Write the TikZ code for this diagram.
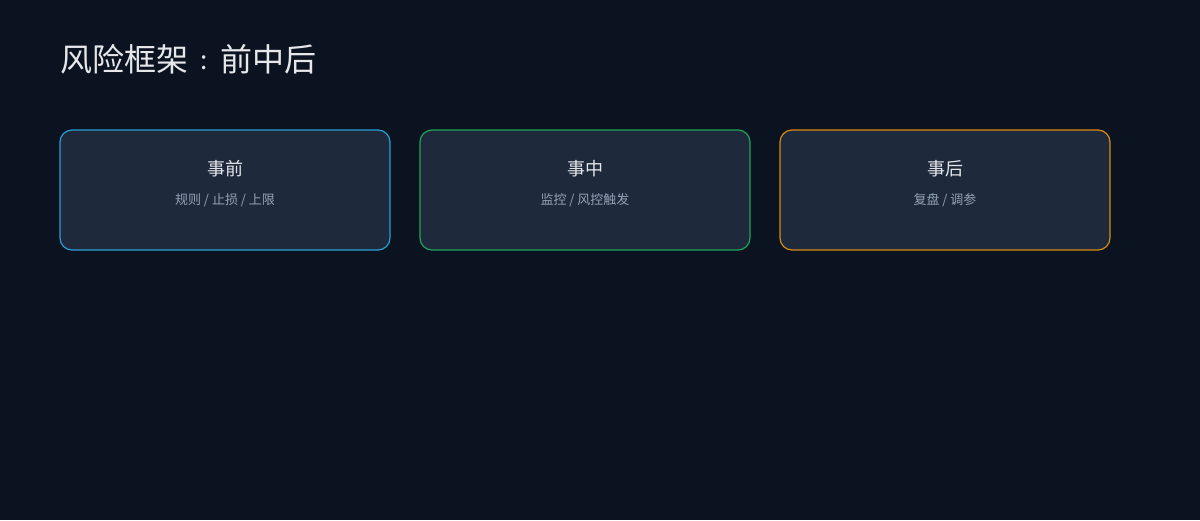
\documentclass[tikz,border=0pt]{standalone}
\usepackage{fontspec}
\setmainfont{Noto Sans CJK SC}
\newfontfamily\cjk{Noto Sans CJK SC}
\definecolor{bgc}{HTML}{0B1220}
\definecolor{boxfill}{HTML}{1E293B}
\definecolor{titlec}{HTML}{E5E7EB}
\definecolor{subc}{HTML}{94A3B8}
\definecolor{bluec}{HTML}{2A9FD6}
\definecolor{greenc}{HTML}{1FA45A}
\definecolor{orangec}{HTML}{D98A12}
\tikzset{
  card/.style={draw=#1, line width=1.2pt, fill=boxfill, rounded corners=12pt},
  cardtitle/.style={text=titlec, font=\cjk\fontsize{18}{20}\selectfont, anchor=center},
  cardsub/.style={text=subc, font=\cjk\fontsize{13}{15}\selectfont, anchor=center},
  maintitle/.style={text=titlec, font=\cjk\fontsize{32}{36}\selectfont, anchor=west, inner sep=0pt}
}
\begin{document}
\begin{tikzpicture}[x=1pt,y=-1pt]
\fill[bgc] (0,0) rectangle (1200,520);
\useasboundingbox (0,0) rectangle (1200,520);
\node[maintitle] (title) at (60,59) {风险框架\makebox[32pt]{\raisebox{1.5pt}{\fontsize{26}{26}\selectfont :}}前中后};
\draw[card=bluec] (60,130) rectangle (390,250);
\draw[card=greenc] (420,130) rectangle (750,250);
\draw[card=orangec] (780,130) rectangle (1110,250);
\node[cardtitle] (t1) at (225,169) {事前};
\node[cardsub] (s1) at (225,200) {规则 / 止损 / 上限};
\node[cardtitle] (t2) at (585,169) {事中};
\node[cardsub] (s2) at (585,200) {监控 / 风控触发};
\node[cardtitle] (t3) at (945,169) {事后};
\node[cardsub] (s3) at (945,200) {复盘 / 调参};
\end{tikzpicture}
\end{document}
